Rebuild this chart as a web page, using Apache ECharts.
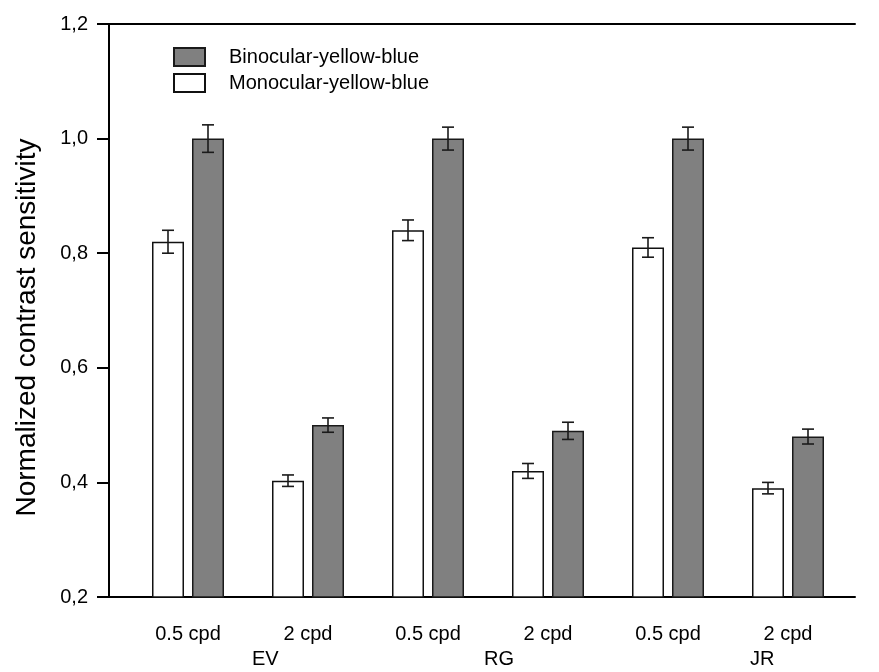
<!DOCTYPE html>
<html>
<head>
<meta charset="utf-8">
<script src="https://cdn.jsdelivr.net/npm/echarts@6/dist/echarts.min.js"></script>
<style>
  html, body { margin: 0; padding: 0; background: #ffffff; }
  #chart { width: 879px; height: 672px; }
</style>
</head>
<body>
<div id="chart"></div>
<script>
// Spatial-frequency conditions, one per bar pair
const conditions = ['0.5 cpd', '2 cpd', '0.5 cpd', '2 cpd', '0.5 cpd', '2 cpd'];
// Observers, each covering two conditions
const subjects = ['EV', 'RG', 'JR'];

// Normalized contrast sensitivity and its error (±)
const monocular    = [0.82, 0.403, 0.84, 0.42, 0.81, 0.39];
const monocularErr = [0.020, 0.010, 0.018, 0.013, 0.017, 0.010];
const binocular    = [1.00, 0.50, 1.00, 0.49, 1.00, 0.48];
const binocularErr = [0.024, 0.0125, 0.020, 0.015, 0.020, 0.013];

// Value axis range and step
const yMin = 0.2;
const yMax = 1.2;
const yStep = 0.2;

const seriesNames = ['Monocular-yellow-blue', 'Binocular-yellow-blue'];
const legendOrder = ['Binocular-yellow-blue', 'Monocular-yellow-blue'];

const FONT = "'Liberation Sans', Arial, Helvetica, sans-serif";
const BAR_W = 32;
const BAR_GAP = 8;

function errorBars(values, errs, side) {
  return {
    type: 'custom',
    xAxisIndex: 2,
    yAxisIndex: 1,
    z: 5,
    silent: true,
    encode: { x: 0, y: 1 },
    data: values.map((v, i) => [i, v, errs[i]]),
    renderItem: function (params, api) {
      const i = api.value(0);
      const v = api.value(1);
      const e = api.value(2);
      const top = api.coord([i, v + e]);
      const bot = api.coord([i, v - e]);
      const x = top[0] + side * (BAR_W / 2 + BAR_GAP / 2);
      const cap = 6;
      const style = { stroke: '#1a1a1a', lineWidth: 1.6 };
      return {
        type: 'group',
        children: [
          { type: 'line', shape: { x1: x, y1: top[1], x2: x, y2: bot[1] }, style: style },
          { type: 'line', shape: { x1: x - cap, y1: top[1], x2: x + cap, y2: top[1] }, style: style },
          { type: 'line', shape: { x1: x - cap, y1: bot[1], x2: x + cap, y2: bot[1] }, style: style }
        ]
      };
    }
  };
}

const chart = echarts.init(document.getElementById('chart'), null, { renderer: 'canvas' });

const option = {
  backgroundColor: '#ffffff',
  animation: false,
  textStyle: { fontFamily: FONT, color: '#000' },
  grid: [
    // frame with the value axis
    { left: 109, right: 24, top: 24, bottom: 75 },
    // bars and condition labels
    { left: 128, right: 31, top: 24, bottom: 75 }
  ],
  legend: {
    data: legendOrder,
    orient: 'vertical',
    left: 168,
    top: 42,
    itemWidth: 31,
    itemHeight: 18,
    itemGap: 6,
    icon: 'rect',
    selectedMode: false,
    textStyle: { fontFamily: FONT, fontSize: 20, color: '#000', padding: [0, 0, 0, 19] }
  },
  xAxis: [
    {
      gridIndex: 0, type: 'value', position: 'bottom', min: 0, max: 1,
      axisLine: { show: true, lineStyle: { color: '#000', width: 2 } },
      axisTick: { show: false }, axisLabel: { show: false }, splitLine: { show: false }
    },
    {
      gridIndex: 0, type: 'value', position: 'top', min: 0, max: 1,
      axisLine: { show: true, lineStyle: { color: '#000', width: 2 } },
      axisTick: { show: false }, axisLabel: { show: false }, splitLine: { show: false }
    },
    {
      gridIndex: 1, type: 'category', data: conditions, boundaryGap: true,
      axisLine: { show: false }, axisTick: { show: false }, splitLine: { show: false },
      axisLabel: { fontFamily: FONT, fontSize: 20, color: '#000', margin: 27, interval: 0 }
    }
  ],
  yAxis: [
    {
      gridIndex: 0, type: 'value', min: yMin, max: yMax, interval: yStep,
      name: 'Normalized contrast sensitivity',
      nameLocation: 'middle',
      nameGap: 68,
      nameTextStyle: { fontFamily: FONT, fontSize: 28, color: '#000', padding: [0, 34, 0, 0] },
      axisLine: { show: true, lineStyle: { color: '#000', width: 2 } },
      axisTick: { show: true, inside: false, length: 12, lineStyle: { color: '#000', width: 2 } },
      axisLabel: {
        fontFamily: FONT, fontSize: 20, color: '#000', margin: 21,
        formatter: v => v.toFixed(1).replace('.', ',')
      },
      splitLine: { show: false }
    },
    {
      gridIndex: 1, type: 'value', min: yMin, max: yMax, interval: yStep, show: false
    }
  ],
  series: [
    {
      name: seriesNames[0],
      type: 'bar',
      xAxisIndex: 2, yAxisIndex: 1,
      data: monocular,
      barWidth: BAR_W,
      barGap: (BAR_GAP / BAR_W * 100) + '%',
      itemStyle: { color: '#ffffff', borderColor: '#111111', borderWidth: 1.5 }
    },
    {
      name: seriesNames[1],
      type: 'bar',
      xAxisIndex: 2, yAxisIndex: 1,
      data: binocular,
      barWidth: BAR_W,
      barGap: (BAR_GAP / BAR_W * 100) + '%',
      itemStyle: { color: '#808080', borderColor: '#1a1a1a', borderWidth: 1.5 }
    },
    errorBars(monocular, monocularErr, -1),
    errorBars(binocular, binocularErr, 1)
  ],
  graphic: [
    { type: 'text', left: 252, top: 649, style: { text: subjects[0], font: '20px ' + FONT, fill: '#000', textAlign: 'center' } },
    { type: 'text', left: 484, top: 649, style: { text: subjects[1], font: '20px ' + FONT, fill: '#000', textAlign: 'center' } },
    { type: 'text', left: 750, top: 649, style: { text: subjects[2], font: '20px ' + FONT, fill: '#000', textAlign: 'center' } }
  ]
};

chart.setOption(option);
</script>
</body>
</html>
